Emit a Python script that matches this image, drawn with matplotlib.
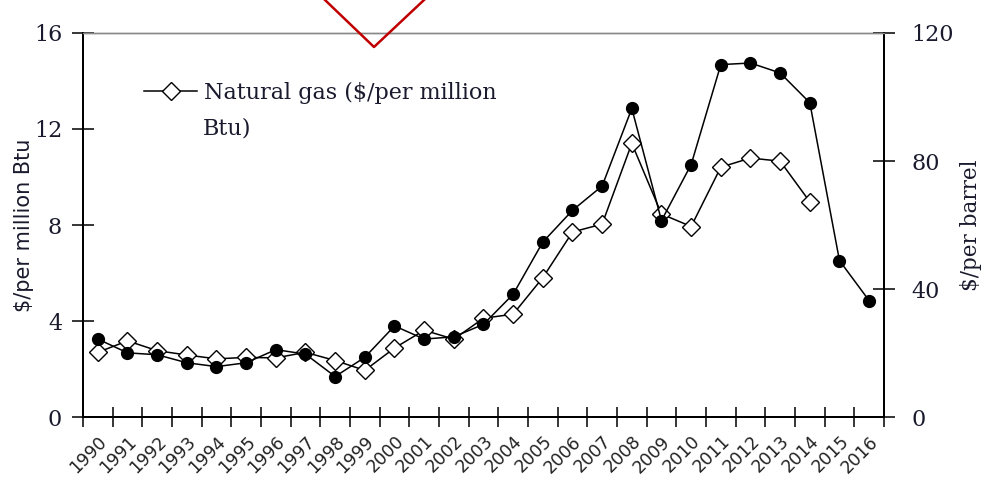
import matplotlib
matplotlib.use("Agg")
import matplotlib.pyplot as plt
from matplotlib.lines import Line2D
from matplotlib.ticker import FixedLocator, NullFormatter

years = [str(y) for y in range(1990, 2017)]
# natural gas, $/per million Btu (left axis)
gas = [2.70, 3.18, 2.77, 2.59, 2.43, 2.49, 2.47, 2.70, 2.36, 1.95,
       2.88, 3.62, 3.25, 4.12, 4.29, 5.81, 7.71, 8.04, 11.4, 8.46,
       7.94, 10.41, 10.79, 10.66, 8.97]
# crude oil, $/per barrel (right axis)
oil = [24.4, 20.1, 19.5, 17.0, 15.8, 17.0, 21.1, 19.7, 12.7, 18.7,
       28.5, 24.4, 25.1, 29.0, 38.4, 54.7, 64.6, 72.2, 96.4, 61.4,
       78.9, 110.1, 110.6, 107.5, 98.2, 48.9, 36.4]

SERIF = "DejaVu Serif"
TXT = "#1a1a2e"

fig = plt.figure(figsize=(9.81, 4.84), dpi=100)
ax = fig.add_axes([0.0846, 0.138, 0.8165, 0.794])
ax2 = ax.twinx()

x = list(range(len(years)))
ax.plot(x[:len(gas)], gas, color="black", lw=1.1, marker="D", ms=9,
        mfc="white", mec="black", mew=1.0, label="Natural gas ($/per million", zorder=3)
ax2.plot(x, oil, color="black", lw=1.1, marker="o", ms=8.5,
         mfc="black", mec="black", zorder=4)

ax.set_xlim(-0.5, len(years) - 0.5)
ax.set_ylim(0, 16)
ax2.set_ylim(0, 120)
ax.set_yticks([0, 4, 8, 12, 16])
ax2.set_yticks([0, 40, 80, 120])

# category boundaries carry the tick marks, labels sit at the centers
ax.xaxis.set_major_locator(FixedLocator([i - 0.5 for i in range(len(years) + 1)]))
ax.xaxis.set_major_formatter(NullFormatter())
ax.xaxis.set_minor_locator(FixedLocator(x))
ax.set_xticklabels(years, minor=True, rotation=45, ha="right",
                   rotation_mode="anchor", fontsize=12.5, family="DejaVu Sans",
                   color="#222222")
ax.tick_params(axis="x", which="minor", length=0, pad=11)
ax.tick_params(axis="x", which="major", direction="inout", length=14, width=1.1)
ax.tick_params(axis="y", direction="inout", length=16, width=1.1, pad=7,
               labelsize=16, labelcolor=TXT)
ax2.tick_params(axis="y", direction="inout", length=16, width=1.1, pad=12,
                labelsize=16, labelcolor=TXT)
for t in ax.get_yticklabels() + ax2.get_yticklabels():
    t.set_family(SERIF)

for a in (ax, ax2):
    a.spines["top"].set_color("#888888")
    a.spines["top"].set_linewidth(1.0)
    a.spines["left"].set_linewidth(1.4)
    a.spines["right"].set_linewidth(1.4)
    a.spines["bottom"].set_linewidth(1.4)

ax.set_ylabel("$/per million Btu", fontsize=15, family="DejaVu Sans", color=TXT, labelpad=0)
ax2.set_ylabel("$/per barrel", fontsize=15.5, family=SERIF, color=TXT, labelpad=4)

leg = ax.legend(loc="upper left", bbox_to_anchor=(0.065, 0.895), frameon=False,
                prop={"family": SERIF, "size": 16}, handlelength=2.4,
                handletextpad=0.3, borderaxespad=0)
for t in leg.get_texts():
    t.set_color(TXT)
ax.text(0.150, 0.75, "Btu)", transform=ax.transAxes, fontsize=16,
        family=SERIF, color=TXT, va="center")

# red V overlay at the top of the picture
fig.add_artist(Line2D([325 / 981, 374 / 981, 424 / 981],
                      [1.0, 1 - 47 / 484, 1.0], color="#c00000", lw=1.8,
                      transform=fig.transFigure))

fig.savefig("out.png", dpi=100)
